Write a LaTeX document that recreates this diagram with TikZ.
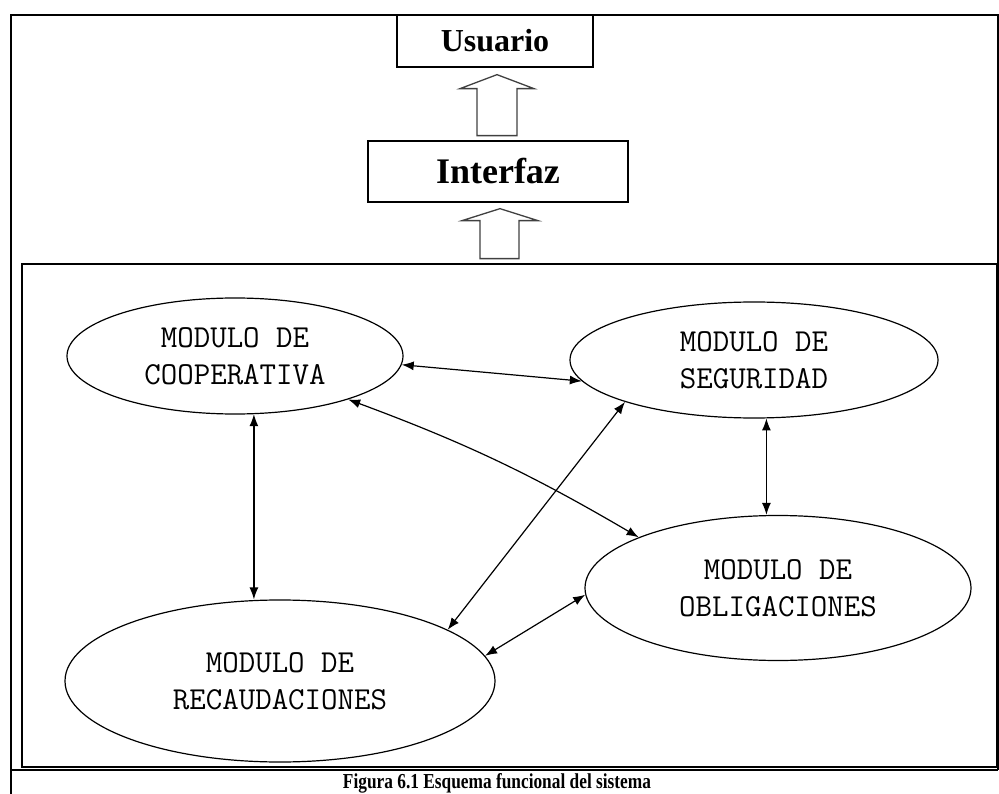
\documentclass[tikz,border=0pt]{standalone}
\usepackage{fontspec}
\setmainfont{Liberation Serif}
\usetikzlibrary{arrows.meta,shapes.geometric}

\tikzset{
    modulo/.style={draw, ellipse, line width=1.2pt, inner sep=0pt, align=center,
        font=\ttfamily\fontsize{32}{37}\selectfont},
    caja/.style={draw, rectangle, line width=1.3pt, inner sep=0pt},
    link/.style={<->, line width=1.2pt, >={Latex[length=12pt,width=9pt]}},
    hueco/.style={draw=black!75, line width=1.3pt, line join=miter},
}

\begin{document}
\begin{tikzpicture}[x=1pt,y=-1pt]
    \useasboundingbox (0,0) rectangle (999,794);

    % marco
    \draw[line width=2.2pt] (11,794) -- (11,15) -- (998,15) -- (998,770);
    \draw[line width=2.2pt] (11,770) -- (998,770);
    \draw[line width=1.6pt] (22,264) rectangle (997,767);

    \node[caja, minimum width=196pt, minimum height=52pt,
        font=\bfseries\fontsize{32}{36}\selectfont] (usuario) at (495,41) {Usuario};
    \node[caja, minimum width=260pt, minimum height=61pt,
        font=\bfseries\fontsize{36}{40}\selectfont] (interfaz) at (498,171.5) {Interfaz};

    \draw[hueco] (usuario.south) ++(2,7) -- ++(37,14) -- ++(-17,0) -- ++(0,47)
        -- ++(-40,0) -- ++(0,-47) -- ++(-17,0) -- cycle;
    \draw[hueco] (interfaz.south) ++(2,6) -- ++(38,12) -- ++(-19,0) -- ++(0,38)
        -- ++(-39,0) -- ++(0,-38) -- ++(-18,0) -- cycle;

    \node[modulo, minimum width=336pt, minimum height=116pt] (coop) at (235,356)
        {MODULO DE\\COOPERATIVA};
    \node[modulo, minimum width=368pt, minimum height=116pt] (seg) at (754,360)
        {MODULO DE\\SEGURIDAD};
    \node[modulo, minimum width=386pt, minimum height=145pt] (oblig) at (778,588)
        {MODULO DE\\OBLIGACIONES};
    \node[modulo, minimum width=430pt, minimum height=162pt] (recaud) at (280,681)
        {MODULO DE\\RECAUDACIONES};

    \draw[link] (coop.-3) -- (seg.187);
    \draw[link] (coop.-72) -- (coop.-72 |- recaud.north);
    \draw[link] (coop.-21) to[bend left=5] (oblig.160);
    \draw[link] (seg.198) -- (recaud.17);
    \draw[link] (seg.-78) -- (seg.-78 |- oblig.north);
    \draw[link] (recaud.7) -- (oblig.182);

    \node[anchor=base, inner sep=0pt] (caption) at (497,788)
        {\resizebox{308pt}{15pt}{\bfseries Figura 6.1 Esquema funcional del sistema}};
\end{tikzpicture}
\end{document}
